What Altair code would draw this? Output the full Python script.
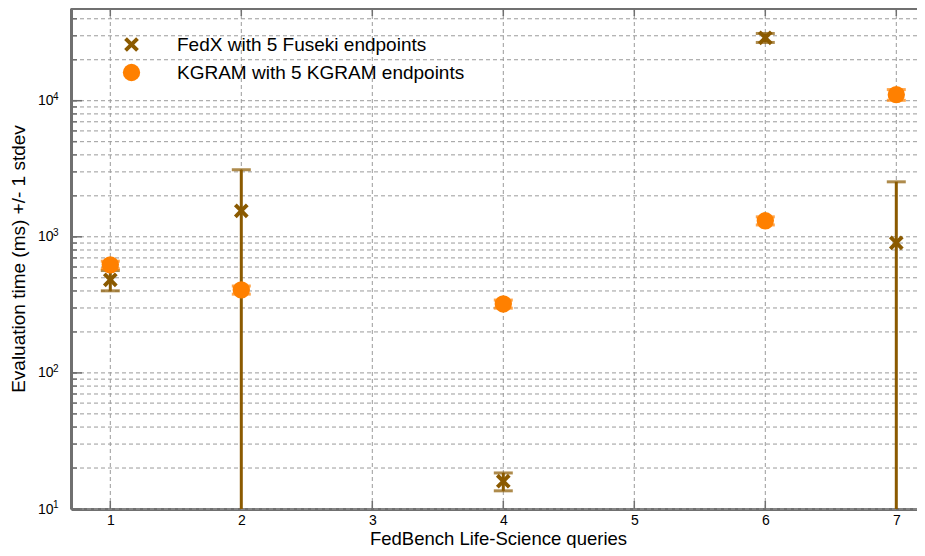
import altair as alt
import pandas as pd

# ---- data ----
queries = [1, 2, 4, 6, 7]
fedx_mean = [483, 1553, 16, 29000, 903]
fedx_sd = [82, 1557, 2.4, 2200, 1632]
kgram_mean = [622, 407, 321, 1312, 11070]
kgram_sd = [40, 28, 22, 90, 1000]
series_names = ["FedX with 5 Fuseki endpoints", "KGRAM with 5 KGRAM endpoints"]
series_colors = ["#8b5a00", "#ff8000"]

x_tick_values = [1, 2, 3, 4, 5, 6, 7]
y_label_values = [10, 100, 1000, 10000]
y_label_exponents = ["1", "2", "3", "4"]
y_grid_values = [10, 20, 30, 40, 50, 60, 70, 80, 90,
                 100, 200, 300, 400, 500, 600, 700, 800, 900,
                 1000, 2000, 3000, 4000, 5000, 6000, 7000, 8000, 9000,
                 10000, 20000, 30000, 40000]

rows = []
for name, means, sds in [(series_names[0], fedx_mean, fedx_sd),
                         (series_names[1], kgram_mean, kgram_sd)]:
    for q, m, s in zip(queries, means, sds):
        rows.append({"series": name, "query": q, "mean": m, "sd": s})
df = pd.DataFrame(rows)

W, H = 846, 501
FONT = "Liberation Sans"
GRID = "#9a9a9a"
FRAME = "#707070"

xscale = alt.Scale(domain=[0.7, 0.7 + W / 131.0], nice=False, zero=False)
yscale = alt.Scale(type="log", domain=[10, 48000], nice=False)
cscale = alt.Scale(domain=series_names, range=series_colors)

xpath = ("M-0.85,-0.53 L-0.53,-0.85 L0,-0.32 L0.53,-0.85 L0.85,-0.53 "
         "L0.32,0 L0.85,0.53 L0.53,0.85 L0,0.32 L-0.53,0.85 L-0.85,0.53 "
         "L-0.32,0 Z")
sscale = alt.Scale(domain=series_names, range=[xpath, "circle"])

x_axis = alt.Axis(values=x_tick_values, ticks=False, grid=False, domain=True,
                  domainColor=FRAME, domainWidth=3, labelFontSize=14,
                  labelPadding=4, labelColor="black", titleFontSize=18.5,
                  titleFontWeight="normal", titleColor="black",
                  titleX=427, titleY=35, titleBaseline="alphabetic", format="d")
y_axis = alt.Axis(values=y_label_values, ticks=False, grid=False, domain=True,
                  domainColor=FRAME, domainWidth=3, labelFontSize=14,
                  labelPadding=18, labelColor="black", labelExpr="'10'",
                  labelBaseline="middle", labelAlign="right",
                  titleFontSize=19, titleFontWeight="normal", titleColor="black",
                  titleX=-53, titleY=H / 2, titleBaseline="middle")

X = alt.X("query:Q", scale=xscale, axis=x_axis, title="FedBench Life-Science queries")
Y = alt.Y("mean:Q", scale=yscale, axis=y_axis, title="Evaluation time (ms) +/- 1 stdev")

# grid
ygrid_df = pd.DataFrame({"v": y_grid_values})
xgrid_df = pd.DataFrame({"v": x_tick_values})
ymajor_df = pd.DataFrame({"v": y_label_values, "e": y_label_exponents})

hgrid = alt.Chart(ygrid_df).mark_rule(color=GRID, strokeWidth=1, strokeDash=[4, 3]).encode(
    y=alt.Y("v:Q", scale=yscale))
vgrid = alt.Chart(xgrid_df).mark_rule(color=GRID, strokeWidth=1, strokeDash=[4, 3]).encode(
    x=alt.X("v:Q", scale=xscale))

# inward ticks
yminor_ticks = alt.Chart(ygrid_df).mark_rule(color=FRAME, strokeWidth=1.5).encode(
    y=alt.Y("v:Q", scale=yscale), x=alt.value(0), x2=alt.value(6))
ymajor_ticks = alt.Chart(ymajor_df).mark_rule(color=FRAME, strokeWidth=1.5).encode(
    y=alt.Y("v:Q", scale=yscale), x=alt.value(0), x2=alt.value(11))
xbot_ticks = alt.Chart(xgrid_df).mark_rule(color=FRAME, strokeWidth=1.5).encode(
    x=alt.X("v:Q", scale=xscale), y=alt.value(H), y2=alt.value(H - 8))
xtop_ticks = alt.Chart(xgrid_df).mark_rule(color=FRAME, strokeWidth=1.5).encode(
    x=alt.X("v:Q", scale=xscale), y=alt.value(0), y2=alt.value(8))
top_frame = alt.Chart(xgrid_df).mark_rule(color=FRAME, strokeWidth=3).encode(
    x=alt.value(0), x2=alt.value(W), y=alt.value(0))

# exponent part of the y tick labels (10^k)
exponents = alt.Chart(ymajor_df).mark_text(
    align="left", baseline="middle", fontSize=10, dy=-4, color="black", font=FONT
).encode(y=alt.Y("v:Q", scale=yscale), x=alt.value(-18), text="e:N")

# error bars, one set per series
err_layers = []
for name, col in zip(series_names, series_colors):
    b = alt.Chart(df).transform_filter(alt.datum.series == name).transform_calculate(
        hi="datum.mean + datum.sd",
        lo="max(datum.mean - datum.sd, 1)",
        lo_raw="datum.mean - datum.sd",
    )
    err_layers.append(b.mark_rule(strokeWidth=3, clip=True, color=col).encode(
        x=alt.X("query:Q", scale=xscale),
        y=alt.Y("lo:Q", scale=yscale),
        y2="hi:Q"))
    err_layers.append(b.mark_tick(orient="horizontal", size=19, thickness=3,
                                  clip=True, color=col).encode(
        x=alt.X("query:Q", scale=xscale),
        y=alt.Y("hi:Q", scale=yscale)))
    err_layers.append(b.transform_filter("datum.lo_raw > 0").mark_tick(
        orient="horizontal", size=19, thickness=3, clip=True, color=col).encode(
        x=alt.X("query:Q", scale=xscale),
        y=alt.Y("lo_raw:Q", scale=yscale)))

legend = alt.Legend(title=None, orient="none", legendX=51, legendY=27,
                    labelFontSize=19, labelColor="black", labelFont=FONT,
                    labelLimit=500,
                    symbolSize=300, symbolStrokeWidth=0, rowPadding=8,
                    labelOffset=36, padding=0, symbolOpacity=1)

points = alt.Chart(df).mark_point(filled=True, size=300, opacity=1).encode(
    x=X, y=Y,
    color=alt.Color("series:N", scale=cscale, legend=legend),
    shape=alt.Shape("series:N", scale=sscale, legend=legend),
)

chart = alt.layer(
    hgrid, vgrid, yminor_ticks, ymajor_ticks, xbot_ticks, xtop_ticks,
    *err_layers, points, top_frame, exponents
).properties(
    width=W, height=H,
    autosize=alt.AutoSizeParams(type="none"),
    padding={"left": 63, "top": 0, "right": 0, "bottom": 39},
).configure_view(stroke=None).configure(font=FONT)

chart.save("out.html", embed_options={"renderer": "svg", "actions": False})
